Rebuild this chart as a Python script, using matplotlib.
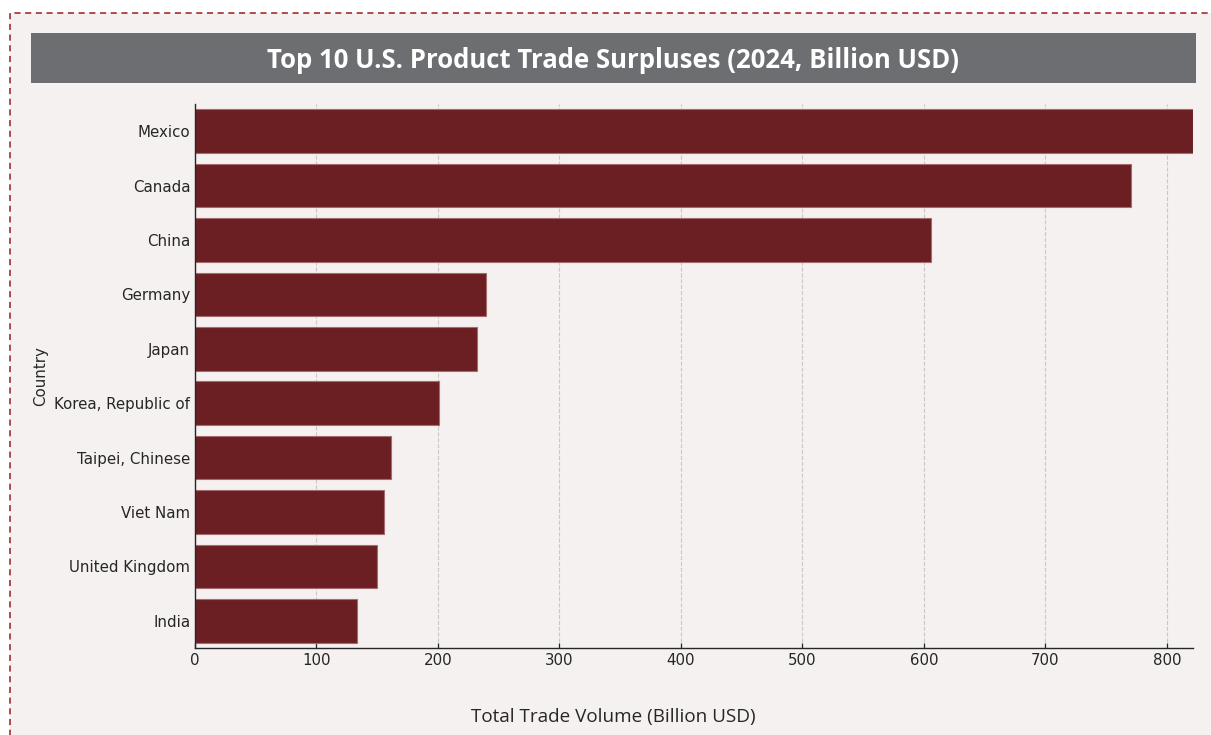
import os
import matplotlib.pyplot as plt
from matplotlib import font_manager
from matplotlib.patches import Rectangle


def font_file(name, weight):
    # pick the upright, normal-width face of a family
    hits = [f for f in font_manager.fontManager.ttflist
            if f.name == name and f.style == 'normal' and f.stretch in ('normal', 500)]
    if not hits:
        return None
    hits.sort(key=lambda f: (abs(int(f.weight) - weight) if str(f.weight).isdigit() else 999,
                             'condensed' in os.path.basename(f.fname).lower()))
    return hits[0].fname


def fprops(name, weight, size):
    path = font_file(name, weight)
    if path:
        return font_manager.FontProperties(fname=path, size=size)
    return font_manager.FontProperties(family=name, weight=weight, size=size)


countries = ['Mexico', 'Canada', 'China', 'Germany', 'Japan',
             'Korea, Republic of', 'Taipei, Chinese', 'Viet Nam',
             'United Kingdom', 'India']
volume = [821.4, 770.4, 605.8, 239.5, 232.0, 200.8, 161.3, 155.8, 149.5, 133.1]
xticks = [0, 100, 200, 300, 400, 500, 600, 700, 800]

bg = '#f5f1f0'
bar_color = '#6b1f22'
tick_fp = fprops('DejaVu Sans', 400, 10.8)

fig = plt.figure(figsize=(12.11, 7.35), dpi=100)
fig.patch.set_facecolor('white')

# dashed frame running off the right/bottom edges
fig.patches.append(Rectangle((10 / 1211, -0.2), 1.2, (735 - 13) / 735 + 0.2,
                             transform=fig.transFigure, facecolor=bg,
                             edgecolor='#9b1b1e', linewidth=1.1,
                             linestyle=(0, (4, 3)), zorder=-10))

# grey title band
fig.patches.append(Rectangle((31 / 1211, (735 - 83) / 735), (1196 - 31) / 1211, 50 / 735,
                             transform=fig.transFigure, facecolor='#6d6e71',
                             edgecolor='none', zorder=-9))
fig.text(613 / 1211, 1 - 60 / 735, 'Top 10 U.S. Product Trade Surpluses (2024, Billion USD)',
         ha='center', va='center', color='white',
         fontproperties=fprops('Open Sans', 700, 18.5))

ax = fig.add_axes([195 / 1211, 1 - 648 / 735, (1193 - 195) / 1211, (648 - 104) / 735])
ax.set_facecolor(bg)
ax.barh(range(len(countries)), volume, height=0.8, color=bar_color,
        edgecolor='#a86b6d', linewidth=0.8, zorder=2)
ax.set_yticks(range(len(countries)))
ax.set_yticklabels(countries)
ax.set_ylim(len(countries) - 0.5, -0.5)
ax.set_xlim(0, max(volume))
ax.set_xticks(xticks)
for lbl in ax.get_xticklabels() + ax.get_yticklabels():
    lbl.set_fontproperties(tick_fp)
ax.grid(axis='x', linestyle='--', color='#c8c8c8', linewidth=0.8, zorder=0)
ax.set_axisbelow(True)
ax.set_ylabel('Country', color='#262626', fontproperties=tick_fp)
for s in ['top', 'right']:
    ax.spines[s].set_visible(False)
for s in ['left', 'bottom']:
    ax.spines[s].set_color('#262626')
    ax.spines[s].set_linewidth(1.0)
ax.tick_params(colors='#262626', direction='in', length=3.5, width=0.9, pad=3.5)

fig.text(613 / 1211, 1 - 717 / 735, 'Total Trade Volume (Billion USD)',
         ha='center', va='center', color='#262626',
         fontproperties=fprops('Open Sans', 400, 13.6))

fig.savefig('out.png', dpi=100, facecolor=fig.get_facecolor())
